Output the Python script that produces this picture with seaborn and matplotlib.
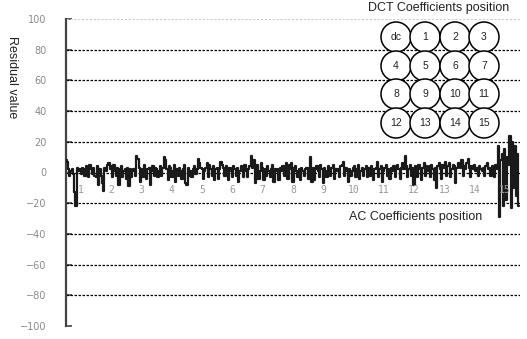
import numpy as np
import pandas as pd
import matplotlib
matplotlib.use("Agg")
import matplotlib.pyplot as plt
from matplotlib.patches import Ellipse
import seaborn as sns

# residual values, one list per AC coefficient position (24 samples each)
seg1 = [8, 7, 2, -2, 1, 2, -1, -13, -22, 3, 1, 2, -1, 3, 2, -2, 4, 1, -3, 5, 2, -1, 3, -2]
seg2 = [-3, 4, -8, 2, -2, -7, -12, 3, 1, 5, 6, 2, 4, -3, 5, 1, -2, 3, -8, 2, 4, -3, 1, 2]
seg3 = [-4, 3, -9, 2, -3, 1, 2, -2, 11, 9, 3, -6, 2, -3, 5, 1, -4, 2, 3, -8, 1, 4, -2, 3]
seg4 = [2, -3, 1, 4, -2, 3, 10, 8, 2, -5, 4, 3, -3, 1, 5, -6, 2, -2, 3, 1, -4, 2, 5, -7]
seg5 = [-8, 3, -2, 1, -3, 2, 4, -1, 2, 9, 6, 3, 2, -4, 1, 3, 6, -3, 5, 2, -2, 4, -5, 2]
seg6 = [3, -4, 2, 7, 5, 3, -2, 4, 2, -5, 3, 1, -3, 4, 2, -2, 3, -6, 1, 4, 2, -3, 5, 1]
seg7 = [-3, 2, 4, 11, 3, 8, -7, 2, 5, -4, 1, 6, 3, -5, 2, -2, 4, 1, -3, 2, 5, -6, 2, 1]
seg8 = [2, -5, 3, 1, 4, -2, 2, 6, -4, 5, 2, 6, -6, 3, 4, 1, -3, 2, -5, 3, 1, -2, 2, 3]
seg9 = [-4, 3, 10, -6, 3, -5, 2, 4, 1, -3, 5, 2, -7, 3, 1, -3, 4, 2, -2, 3, 5, -4, 2, 1]
seg10 = [2, -3, 4, 5, 7, -2, 3, 1, -6, 2, -2, 1, 3, 4, -3, 2, 5, -4, 1, 3, -2, 2, 4, -3]
seg11 = [3, -2, 4, 1, -5, 2, 3, 7, -3, 2, 4, -6, 1, 3, 5, -2, 2, -4, 3, 1, 4, -3, 2, 5]
seg12 = [2, -4, 3, 6, 2, 11, 4, -3, 2, 5, -2, 3, -8, 4, 1, -3, 5, 2, -5, 3, 6, -2, 4, 1]
seg13 = [4, -3, 5, 2, -5, 3, -10, 4, 6, 2, -4, 5, 3, 7, -2, 4, 6, -3, 2, 5, 4, -7, 3, 6]
seg14 = [5, 3, 8, -2, 4, 2, 6, 9, 3, -3, 4, 2, 5, 1, 3, -2, 4, 2, 1, 3, -2, 4, 6, 2]
seg15 = [3, -2, 4, 2, -3, 5, 2, 17, -29, 8, 12, -22, 15, -18, 10, 5, 24, -23, 20, -10, 17, -15, 12, -22]

segments = [seg1, seg2, seg3, seg4, seg5, seg6, seg7, seg8, seg9, seg10,
            seg11, seg12, seg13, seg14, seg15]
seg_labels = [str(i) for i in range(1, 16)]
dct_labels = ["dc"] + [str(i) for i in range(1, 16)]
y_ticks = list(range(-100, 101, 20))

per_seg = len(seg1)
values = np.concatenate(segments)
df = pd.DataFrame({"pos": np.arange(len(values)) / per_seg, "residual": values})

sns.set_style("white")
plt.rcParams["font.family"] = ["Liberation Sans", "DejaVu Sans"]

fig = plt.figure(figsize=(5.27, 3.39), dpi=100)
ax = fig.add_axes([66 / 527, 13 / 339, 454 / 527, 307 / 339])

# dotted grid lines
for t in y_ticks:
    if abs(t) == 100:
        ax.axhline(t, color="#cccccc", linestyle=(0, (2, 1.5)), linewidth=0.8, zorder=1)
    else:
        ax.axhline(t, color="black", linestyle=(0, (2, 1.2)), linewidth=0.9, zorder=1)

sns.lineplot(data=df, x="pos", y="residual", ax=ax, color="#1a1a1a",
             linewidth=1.6, drawstyle="steps-mid", zorder=3)

ax.set_xlim(0, len(segments))
ax.set_ylim(-100, 100)
ax.set_yticks(y_ticks)
ax.set_yticklabels([str(t).replace("-", "\u2212") for t in y_ticks],
                   family="DejaVu Sans")
ax.set_xticks([])
ax.set_xlabel("")
ax.set_ylabel("")
ax.tick_params(axis="y", direction="in", length=4, width=1.2, color="#444444",
               pad=14, labelsize=7, labelcolor="#8a8a8a", left=True)
for side in ["top", "right", "bottom"]:
    ax.spines[side].set_visible(False)
ax.spines["left"].set_color("#444444")
ax.spines["left"].set_linewidth(1.6)

# segment numbers
for i, lab in enumerate(seg_labels):
    ax.text(i + 0.5, -11.5, lab, ha="center", va="center", fontsize=7,
            color="#999999", family="DejaVu Sans Mono", zorder=4)

ax.text(11.55, -29, "AC Coefficients position", ha="center", va="center",
        fontsize=9, color="#222222")
ax.text(0.82, 1.037, "DCT Coefficients position", transform=ax.transAxes,
        ha="center", va="center", fontsize=9, color="#222222")
fig.text(12 / 527, 1 - 77 / 339, "Residual value", rotation=270,
         ha="center", va="center", fontsize=9, color="#222222")

# 4x4 grid of DCT coefficient circles
col_px = [396, 425, 455, 484]
row_px = [37, 66, 94, 123]
for r in range(4):
    for c in range(4):
        cx = (col_px[c] - 66) / 454
        cy = (326 - row_px[r]) / 307
        e = Ellipse((cx, cy), 30 / 454, 30 / 307, transform=ax.transAxes,
                    facecolor="white", edgecolor="black", linewidth=1.1, zorder=5)
        ax.add_patch(e)
        ax.text(cx, cy, dct_labels[r * 4 + c], transform=ax.transAxes,
                ha="center", va="center", fontsize=7.5, color="#222222", zorder=6)

fig.savefig("out.png", dpi=100)
